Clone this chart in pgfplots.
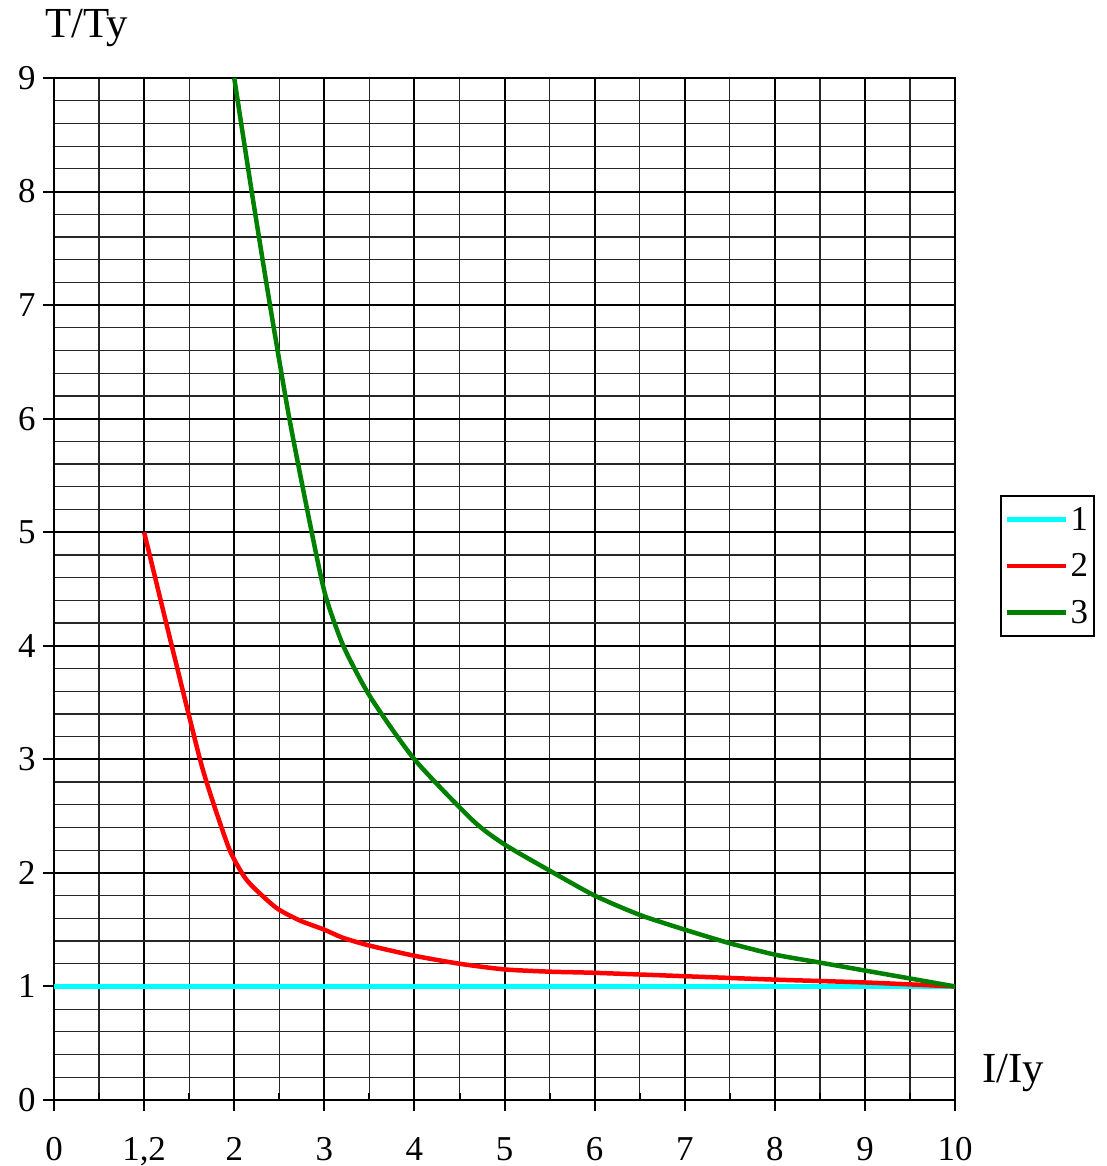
\documentclass[border=0pt]{standalone}
\usepackage{pgfplots}
\pgfplotsset{compat=1.18}
\usepackage{fontspec}
\setmainfont{Liberation Serif}
\definecolor{cy}{RGB}{0,255,255}
\definecolor{rd}{RGB}{255,0,0}
\definecolor{gr}{RGB}{0,128,0}
\begin{document}
\begin{tikzpicture}
\begin{axis}[
  scale only axis, width=901bp, height=1022bp,
  xmin=0, xmax=10, ymin=0, ymax=9,
  xtick={0,...,10}, xticklabels={0,{1,2},2,3,4,5,6,7,8,9,10},
  ytick={0,...,9},
  minor x tick num=1, minor y tick num=4,
  grid=both,
  major grid style={black, line width=2bp},
  minor grid style={black!85, line width=1.2bp},
  axis line style={line width=2.5bp},
  tick style={black, line width=2bp},
  tick align=outside, major tick length=11bp, minor tick length=0pt,
  xtick pos=left, ytick pos=left,
  extra x ticks={0.5,1.5,...,9.5}, extra x tick labels={},
  extra x tick style={grid=none, tick align=inside, major tick length=7bp},
  /pgf/number format/assume math mode=true,
  ticklabel style={font=\fontsize{35}{35}\selectfont},
  xticklabel style={yshift=-23bp},
  yticklabel style={xshift=-4bp},
  xlabel={I/Iy}, ylabel={T/Ty},
  xlabel style={font=\fontsize{43}{43}\selectfont, at={(axis description cs:1,0)}, anchor=center, xshift=58bp, yshift=27bp},
  ylabel style={font=\fontsize{43}{43}\selectfont, rotate=-90, at={(axis description cs:0,1)}, anchor=center, xshift=33bp, yshift=50bp},
  legend style={at={([xshift=45bp]axis description cs:1,0.5225)}, anchor=west, draw=black, line width=2bp,
    font=\fontsize{35}{35}\selectfont, row sep=18bp, inner xsep=4bp, inner ysep=9bp},
  legend cell align=left,
  legend image code/.code={\draw[#1] (0bp,0bp) -- (59bp,0bp);},
]
\addplot[cy, line width=4.5bp] coordinates {(0,1) (10,1)};
\addlegendentry{1}
\addplot[rd, line width=4.5bp, smooth, tension=0.4] coordinates {
(1,5) (1.31,3.99) (1.62,3.0) (1.77,2.61) (1.95,2.2) (2.1,1.98) (2.21,1.875) (2.47,1.69) (2.73,1.58) (3,1.5) (3.2,1.43) (3.5,1.36) (4,1.27) (4.5,1.2) (5,1.15) (5.5,1.13) (6,1.12) (7,1.09) (8,1.06) (9,1.035) (10,1.0)};
\addlegendentry{2}
\addplot[gr, line width=4.5bp, smooth, tension=0.4] coordinates {
(2,9) (2.194,8) (2.397,7) (2.612,6) (2.86,5) (3.01,4.45) (3.21,4.0) (3.51,3.55) (4,3) (4.65,2.46) (5,2.25) (5.5,2.02) (6,1.8) (6.5,1.63) (7,1.5) (7.5,1.38) (8,1.28) (8.5,1.21) (9,1.14) (9.5,1.07) (10,1.0)};
\addlegendentry{3}
\end{axis}
\pgfresetboundingbox
\path (current axis.south west) ++(-54bp,-66bp) rectangle ([shift={(151bp,78bp)}]current axis.north east);
\end{tikzpicture}
\end{document}
